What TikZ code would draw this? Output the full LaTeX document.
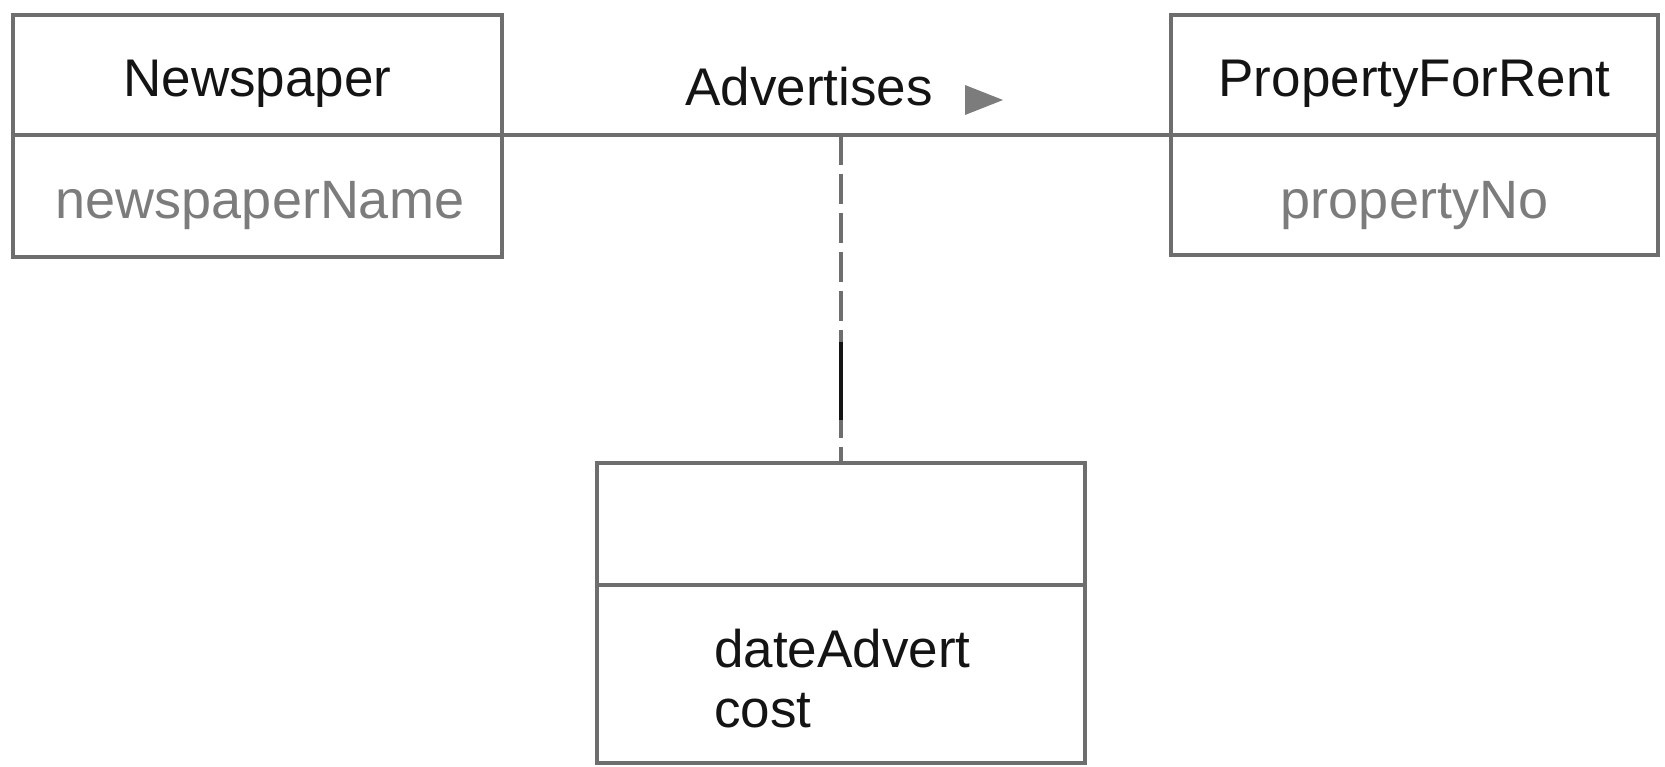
\documentclass[tikz,border=0pt]{standalone}
\usepackage{fontspec}
\setmainfont{Liberation Sans}
\usetikzlibrary{calc}
\definecolor{linegray}{HTML}{6E6E6E}
\definecolor{attrgray}{HTML}{7C7C7C}
\definecolor{namecol}{HTML}{141414}
\tikzset{
  compartment/.style={draw=linegray, line width=3.5pt, minimum width=#1, inner sep=0pt, outer sep=0pt},
  nametext/.style={anchor=base, inner sep=0pt, text=namecol, font=\fontsize{53}{60}\selectfont},
  attrtext/.style={anchor=base, inner sep=0pt, text=attrgray, font=\fontsize{54}{60}\selectfont},
  assoctext/.style={anchor=base west, inner sep=0pt, text=namecol, font=\fontsize{53}{60}\selectfont},
  assocline/.style={draw=linegray, line width=3.5pt},
  linkline/.style={draw=linegray, line width=3.5pt, dash pattern=on 30pt off 9pt},
}
\begin{document}
\begin{tikzpicture}[x=1pt,y=-1pt]
\useasboundingbox (0,0) rectangle (1665,766);
% Newspaper
\node[compartment=489pt, minimum height=120pt] (npT) at (257.5,75) {};
\node[compartment=489pt, minimum height=122pt] (npB) at (257.5,196) {};
\node[nametext] (npN) at (257.5,96) {Newspaper};
\node[attrtext] (npA) at (260,218) {newspaperName};
% PropertyForRent
\node[compartment=487pt, minimum height=120pt] (pfT) at (1414.5,75) {};
\node[compartment=487pt, minimum height=120pt] (pfB) at (1414.5,195) {};
\node[nametext] (pfN) at (1414.5,96) {PropertyForRent};
\node[attrtext] (pfA) at (1414.5,218) {propertyNo};
% association class
\node[compartment=488pt, minimum height=122pt] (acT) at (841,524) {};
\node[compartment=488pt, minimum height=178pt] (acB) at (841,674) {};
\node[assoctext] (acA) at (714,667) {dateAdvert};
\node[assoctext] (acC) at (714,727) {cost};
% association
\draw[assocline] (npT.south east) -- (pfT.south west);
\node[nametext] (adv) at (809,105) {Advertises};
\fill[attrgray] (965,85) -- (965,115) -- (1003,100) -- cycle;
% link to association class
\coordinate (lk) at (acT.north |- npT.south);
\draw[linkline] (lk) -- (acT.north);
\draw[line width=4pt, namecol] ($(lk)!0.63!(acT.north)$) -- ($(lk)!0.87!(acT.north)$);
\end{tikzpicture}
\end{document}
